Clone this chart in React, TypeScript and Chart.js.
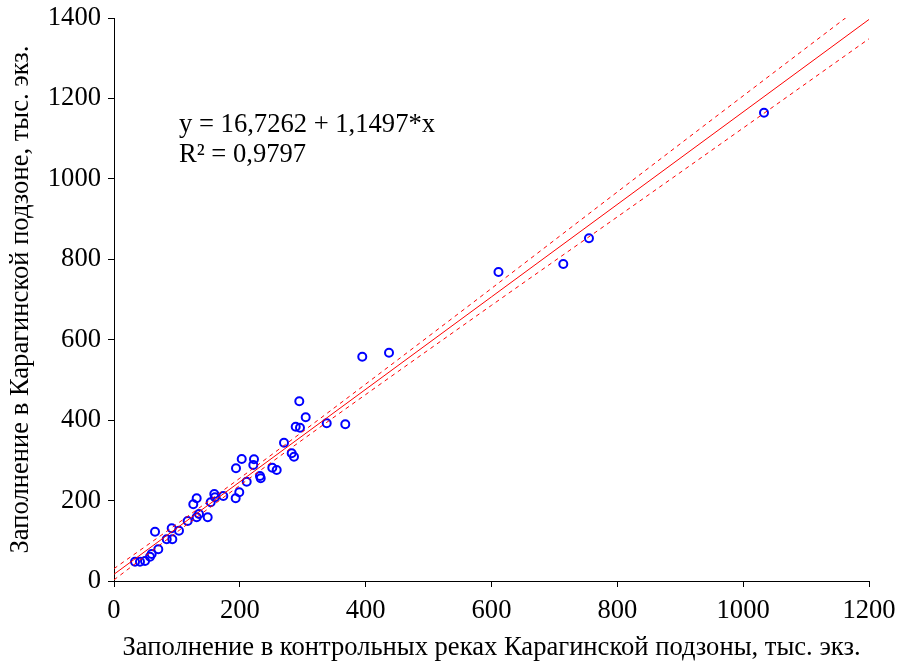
import { useEffect, useRef } from 'react';
import { Chart, registerables } from 'chart.js';

Chart.register(...registerables);

// Заполнение в контрольных реках Карагинской подзоны, тыс. экз. (x)
const controlRivers = [
  33.4, 41.3, 49.3, 57.2, 59.9, 70.4, 65.2, 83.8, 92.7, 91.7,
  103.3, 117.1, 131.4, 135.1, 148.9, 126.0, 131.4, 153.7, 159.4, 160.5,
  173.7, 193.4, 199.1, 193.9, 203.0, 210.9, 222.5, 221.4, 232.0, 233.2,
  251.6, 258.6, 270.2, 282.4, 286.1, 288.8, 295.6, 294.5, 304.7, 338.1,
  367.6, 394.6, 437.1, 611.1, 714.1, 754.9, 1033.1,
];
// Заполнение в Карагинской подзоне, тыс. экз. (y)
const karaginSubzone = [
  48.0, 48.0, 49.7, 60.4, 67.1, 78.8, 122.6, 103.7, 103.7, 131.1,
  125.1, 149.2, 158.4, 166.6, 158.4, 190.7, 205.7, 195.7, 216.3, 208.1,
  211.4, 205.7, 220.6, 280.3, 303.4, 246.9, 302.6, 288.5, 261.1, 255.4,
  281.7, 276.0, 343.9, 317.6, 309.1, 383.7, 381.2, 446.9, 407.1, 392.2,
  389.7, 557.8, 567.7, 768.4, 788.3, 852.2, 1164.5,
];

const xTickValues = [0, 200, 400, 600, 800, 1000, 1200];
const yTickValues = [0, 200, 400, 600, 800, 1000, 1200, 1400];

const intercept = 16.7262;
const slope = 1.1497;
const fitRangeX = [0, 1200];

// confidence band half-width
const bandX = [0, 100, 200, 300, 400, 600, 800, 1000, 1200];
const bandHalfWidth = [14, 10, 9, 10, 13, 21, 31, 40, 48];

const equationText = 'y = 16,7262 + 1,1497*x';
const r2Text = 'R\u00B2 = 0,9797';
const xTitle = 'Заполнение в контрольных реках Карагинской подзоны, тыс. экз.';
const yTitle = 'Заполнение в Карагинской подзоне, тыс. экз.';

const FONT = '"Liberation Serif", "Times New Roman", serif';
const FS = 26.6;

export default function App() {
  const ref = useRef<HTMLCanvasElement | null>(null);

  useEffect(() => {
    if (!ref.current) return;
    const points = controlRivers.map((x, i) => ({ x, y: karaginSubzone[i] }));
    const fit = fitRangeX.map((x) => ({ x, y: intercept + slope * x }));
    const upper = bandX.map((x, i) => ({ x, y: intercept + slope * x + bandHalfWidth[i] }));
    const lower = bandX.map((x, i) => ({ x, y: intercept + slope * x - bandHalfWidth[i] }));

    const annotation = {
      id: 'equation',
      afterDatasetsDraw(chart: any) {
        const { ctx, chartArea } = chart;
        ctx.save();
        ctx.fillStyle = '#000';
        ctx.font = `${FS}px ${FONT}`;
        ctx.textBaseline = 'alphabetic';
        ctx.textAlign = 'left';
        const x0 = chartArea.left + 65;
        ctx.fillText(equationText, x0, chartArea.top + 114);
        ctx.fillText(r2Text, x0, chartArea.top + 144);
        ctx.restore();
      },
    };

    const lineCommon = {
      showLine: true,
      pointRadius: 0,
      pointHoverRadius: 0,
      borderColor: '#ff0000',
      borderWidth: 1,
      fill: false,
      order: 1,
    };

    const chart = new Chart(ref.current, {
      type: 'scatter',
      data: {
        datasets: [
          {
            label: 'data',
            data: points,
            pointRadius: 4,
            pointBorderWidth: 2,
            pointBorderColor: '#0000ff',
            pointBackgroundColor: 'rgba(255,255,255,0)',
            showLine: false,
            order: 2,
          } as any,
          { label: 'fit', data: fit, ...lineCommon } as any,
          { label: 'upper', data: upper, ...lineCommon, borderDash: [4, 4], cubicInterpolationMode: 'monotone' } as any,
          { label: 'lower', data: lower, ...lineCommon, borderDash: [4, 4], cubicInterpolationMode: 'monotone' } as any,
        ],
      },
      options: {
        animation: false,
        responsive: true,
        maintainAspectRatio: false,
        layout: { padding: { left: 0, right: 33, top: 18, bottom: 0 } },
        plugins: { legend: { display: false }, tooltip: { enabled: false } },
        scales: {
          x: {
            type: 'linear',
            min: 0,
            max: 1200,
            afterBuildTicks: (s: any) => { s.ticks = xTickValues.map((v) => ({ value: v })); },
            afterFit: (s: any) => { s.height = 89; s.paddingLeft = 0; s.paddingRight = 0; },
            grid: { drawOnChartArea: false, tickLength: 6, color: '#000', tickColor: '#000' },
            border: { color: '#000', width: 1 },
            ticks: {
              color: '#000',
              font: { family: FONT, size: FS, lineHeight: 1.2 },
              padding: 8,
              maxRotation: 0,
              autoSkip: false,
              callback: (v: any) => String(v),
            },
            title: {
              display: true,
              text: xTitle,
              color: '#000',
              font: { family: FONT, size: FS, lineHeight: 1.2 },
              padding: { top: 0, bottom: 6 },
            },
          },
          y: {
            type: 'linear',
            min: 0,
            max: 1400,
            afterBuildTicks: (s: any) => { s.ticks = yTickValues.map((v) => ({ value: v })); },
            afterFit: (s: any) => { s.width = 114; s.paddingTop = 0; s.paddingBottom = 0; },
            grid: { drawOnChartArea: false, tickLength: 6, color: '#000', tickColor: '#000' },
            border: { color: '#000', width: 1 },
            ticks: {
              color: '#000',
              font: { family: FONT, size: FS, lineHeight: 1.2 },
              padding: 7,
              autoSkip: false,
              callback: (v: any) => String(v),
            },
            title: {
              display: true,
              text: yTitle,
              color: '#000',
              font: { family: FONT, size: FS, lineHeight: 1.2 },
              padding: { top: 5, bottom: 0 },
            },
          },
        },
      },
      plugins: [annotation],
    });
    return () => chart.destroy();
  }, []);

  return (
    <div style={{ position: 'absolute', left: 0, top: 0, width: 902, height: 670, background: '#fff' }}>
      <canvas ref={ref} />
    </div>
  );
}
